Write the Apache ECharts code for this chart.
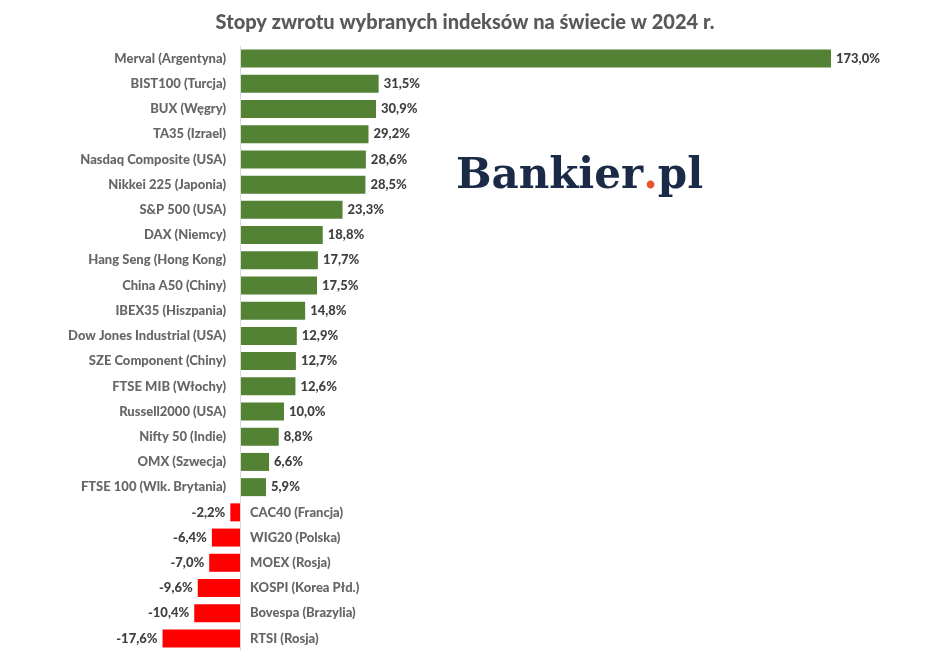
<!DOCTYPE html>
<html>
<head>
<meta charset="utf-8">
<script src="https://cdn.jsdelivr.net/npm/echarts@6/dist/echarts.min.js"></script>
<style>
  html, body { margin: 0; padding: 0; background: #fff; }
  #chart { width: 948px; height: 651px; }
</style>
</head>
<body>
<div id="chart"></div>
<script>
// dane - od góry do dołu
var indeksy = ['Merval (Argentyna)', 'BIST100 (Turcja)', 'BUX (Węgry)', 'TA35 (Izrael)',
  'Nasdaq Composite (USA)', 'Nikkei 225 (Japonia)', 'S&P 500 (USA)', 'DAX (Niemcy)',
  'Hang Seng (Hong Kong)', 'China A50 (Chiny)', 'IBEX35 (Hiszpania)', 'Dow Jones Industrial (USA)',
  'SZE Component (Chiny)', 'FTSE MIB (Włochy)', 'Russell2000 (USA)', 'Nifty 50 (Indie)',
  'OMX (Szwecja)', 'FTSE 100 (Wlk. Brytania)', 'CAC40 (Francja)', 'WIG20 (Polska)',
  'MOEX (Rosja)', 'KOSPI (Korea Płd.)', 'Bovespa (Brazylia)', 'RTSI (Rosja)'];
var stopy = [173.0, 31.5, 30.9, 29.2, 28.6, 28.5, 23.3, 18.8, 17.7, 17.5, 14.8, 12.9,
  12.7, 12.6, 10.0, 8.8, 6.6, 5.9, -2.2, -6.4, -7.0, -9.6, -10.4, -17.6];

var zielony = '#548235';
var czerwony = '#ff0000';
var tekst = '#404040';
var font = 'Lato';

function fmt(v) {
  return v.toFixed(1).replace('.', ',') + '%';
}

var myChart = echarts.init(document.getElementById('chart'));

var barData = stopy.map(function (v) {
  return {
    value: v,
    itemStyle: { color: v >= 0 ? zielony : czerwony },
    label: { position: v >= 0 ? 'right' : 'left' }
  };
});

var nameData = stopy.map(function (v, i) {
  return {
    value: [0, indeksy[i]],
    label: {
      position: v >= 0 ? 'left' : 'right',
      distance: v >= 0 ? 14 : 10
    }
  };
});

var option = {
  animation: false,
  title: {
    text: 'Stopy zwrotu wybranych indeksów na świecie w 2024 r.',
    left: 460,
    textAlign: 'center',
    top: 8,
    textStyle: { fontFamily: font, fontWeight: 900, fontSize: 20, color: '#595959' }
  },
  grid: { left: 152, width: 679, top: 46, height: 609 },
  xAxis: {
    type: 'value',
    min: -20,
    max: 134.3,
    show: false
  },
  yAxis: {
    type: 'category',
    data: indeksy,
    inverse: true,
    axisLine: { show: false },
    axisTick: { show: false },
    axisLabel: { show: false }
  },
  series: [
    {
      type: 'bar',
      data: barData,
      barWidth: 18,
      clip: true,
      label: {
        show: true,
        distance: 5,
        fontFamily: font,
        fontWeight: 900,
        fontSize: 13,
        color: tekst,
        formatter: function (p) { return fmt(stopy[p.dataIndex]); }
      },
      markLine: {
        silent: true,
        symbol: 'none',
        label: { show: false },
        lineStyle: { color: '#d9d9d9', width: 1, type: 'solid' },
        data: [{ xAxis: 0 }]
      }
    },
    {
      type: 'scatter',
      symbolSize: 0,
      data: nameData,
      z: 5,
      label: {
        show: true,
        fontFamily: font,
        fontWeight: 900,
        fontSize: 13,
        color: tekst,
        formatter: function (p) { return p.value[1]; }
      }
    }
  ],
  graphic: [
    {
      type: 'text',
      left: 456,
      top: 156,
      style: {
        text: '{a|Bankier}{b|.}{a|pl}',
        rich: {
          a: { fontFamily: 'DejaVu Serif', fontWeight: 'bold', fontSize: 42, fill: '#1b2a47' },
          b: { fontFamily: 'DejaVu Serif', fontWeight: 'bold', fontSize: 42, fill: '#e8542c' }
        }
      }
    }
  ]
};

myChart.setOption(option);
</script>
</body>
</html>
